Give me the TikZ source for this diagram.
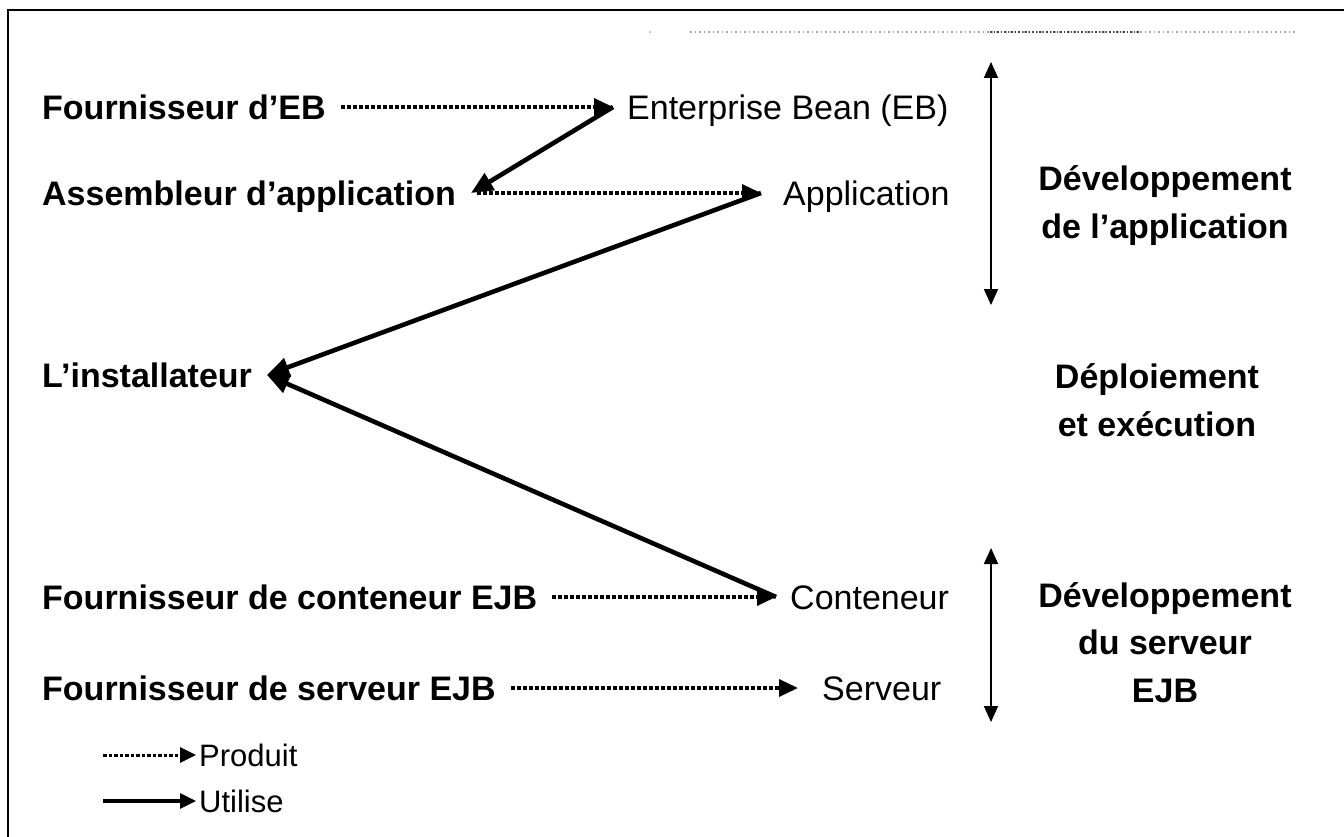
\documentclass[tikz,border=0pt]{standalone}
\usepackage{fontspec}
\setmainfont{Liberation Sans}
\usetikzlibrary{arrows.meta}

\tikzset{
  role/.style={font=\bfseries\fontsize{34}{41}\selectfont, text height=24.3pt, text depth=0pt, inner sep=0pt, anchor=west},
  item/.style={font=\fontsize{34}{41}\selectfont, text height=24.3pt, text depth=0pt, inner sep=0pt, anchor=west},
  phase/.style={font=\bfseries\fontsize{34}{41}\selectfont, text height=24.3pt, text depth=0pt, inner sep=0pt, anchor=center},
  keytext/.style={font=\fontsize{31}{37}\selectfont, text height=22.2pt, text depth=0pt, inner sep=0pt, anchor=west},
  prod/.style={line width=3.4pt, dash pattern=on 4pt off 2pt, -{Triangle[length=19pt,width=17pt]}},
  uses/.style={line width=4.6pt, -{Triangle[length=22pt,width=19pt]}},
  keyprod/.style={line width=3pt, dash pattern=on 3.5pt off 2pt, -{Triangle[length=16pt,width=15pt]}},
  keyuses/.style={line width=3.2pt, -{Triangle[length=16pt,width=15pt]}},
  span/.style={line width=1.8pt, {Triangle[length=16pt,width=14pt]}-{Triangle[length=16pt,width=14pt]}}
}

\begin{document}
\begin{tikzpicture}[x=1pt, y=-1pt]
  \useasboundingbox (0,0) rectangle (1344,837);
  \fill[white] (0,0) rectangle (1344,837);

  % frame (left and top edges)
  \draw[line width=2.4pt] (8,837) -- (8,10) -- (1344,10);

  % faint dotted rule near the top
  \fill[gray!70] (650,32) circle (1pt);
  \draw[gray!70, line width=1.5pt, dash pattern=on 1.5pt off 3pt] (690,32) -- (1295,32);
  \draw[gray!55!black, line width=1.5pt, dash pattern=on 1.5pt off 2pt] (990,32) -- (1140,32);

  % roles
  \node[role] (feb)  at (42,107) {Fournisseur d’EB};
  \node[role] (asm)  at (42,193) {Assembleur d’application};
  \node[role] (inst) at (42,375) {L’installateur};
  \node[role] (fcon) at (42,597) {Fournisseur de conteneur EJB};
  \node[role] (fser) at (42,688) {Fournisseur de serveur EJB};

  % products
  \node[item] (eb)  at (627,107) {Enterprise Bean (EB)};
  \node[item] (app) at (783,193) {Application};
  \node[item] (con) at (790,597) {Conteneur};
  \node[item] (ser) at (822,688) {Serveur};

  % arrow tips
  \coordinate (ebIn)   at (613,107);
  \coordinate (asmIn)  at (471,193);
  \coordinate (appIn)  at (761,193);
  \coordinate (instIn) at (267,375);
  \coordinate (conIn)  at (776,597);
  \coordinate (serIn)  at (798,688);

  % produces
  \draw[prod, shorten <=15pt] (feb.east) -- (ebIn);
  \draw[prod, shorten <=6pt] (asmIn) -- (appIn);
  \draw[prod, shorten <=15pt] (fcon.east) -- (conIn);
  \draw[prod, shorten <=15pt] (fser.east) -- (serIn);

  % uses
  \draw[uses] (ebIn) -- (asmIn);
  \draw[uses] (appIn) -- (instIn);
  \draw[uses] (conIn) -- (instIn);

  % phases
  \coordinate (devTop) at (991,62);
  \coordinate (devBot) at (991,305);
  \coordinate (srvTop) at (991,548);
  \coordinate (srvBot) at (991,722);
  \draw[span] (devTop) -- (devBot);
  \draw[span] (srvTop) -- (srvBot);

  \node[phase] (dev1) at (1165,178) {Développement};
  \node[phase] (dev2) at (1165,226) {de l’application};
  \node[phase] (dep1) at (1157,376) {Déploiement};
  \node[phase] (dep2) at (1157,424) {et exécution};
  \node[phase] (srv1) at (1165,595) {Développement};
  \node[phase] (srv2) at (1165,642) {du serveur};
  \node[phase] (srv3) at (1165,690) {EJB};

  % legend
  \coordinate (kp1) at (103,755);
  \coordinate (kp2) at (196,755);
  \coordinate (ku1) at (103,801);
  \coordinate (ku2) at (196,801);
  \draw[keyprod] (kp1) -- (kp2);
  \draw[keyuses] (ku1) -- (ku2);
  \node[keytext] (kprod) at (199,755) {Produit};
  \node[keytext] (kuses) at (199,801) {Utilise};
\end{tikzpicture}
\end{document}
